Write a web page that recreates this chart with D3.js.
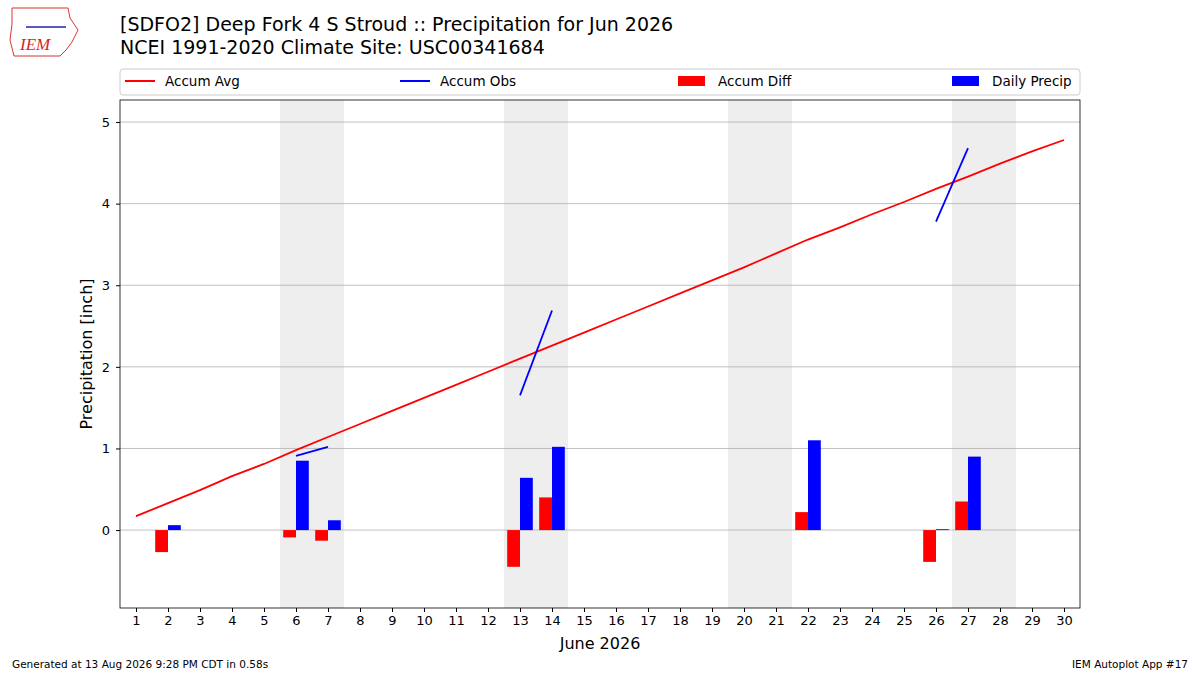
<html>
<head>
<script src="https://d3js.org/d3.v7.min.js"></script>
<style>
  body { margin: 0; background: #fff; font-family: "DejaVu Sans", sans-serif; }
</style>
</head>
<body>
<div id="chart"></div>
<script>
const days = d3.range(1, 31);
const accumAvg = [0.17,0.33,0.49,0.66,0.81,0.98,1.14,1.30,1.46,1.62,1.78,1.94,2.10,2.26,2.42,2.58,2.74,2.90,3.06,3.22,3.39,3.56,3.71,3.87,4.02,4.18,4.33,4.49,4.64,4.78];
// observed accumulation, only reported on some days
const obsDays = [6, 7, 13, 14, 26, 27];
const obsVals = [0.91, 1.02, 1.65, 2.69, 3.78, 4.68];
const diffDays = [2, 6, 7, 13, 14, 22, 26, 27];
const diffVals = [-0.27, -0.09, -0.13, -0.45, 0.40, 0.22, -0.39, 0.35];
const precipDays = [2, 6, 7, 13, 14, 22, 26, 27];
const precipVals = [0.06, 0.85, 0.12, 0.64, 1.02, 1.10, 0.01, 0.90];
const weekendStarts = [6, 13, 20, 27];
const yTicks = [0, 1, 2, 3, 4, 5];

const svg = d3.select("#chart").append("svg").attr("width", 1200).attr("height", 675);
const x = d3.scaleLinear().domain([0.5, 30.5]).range([120, 1080]);
const y = d3.scaleLinear().domain([-0.955, 5.27]).range([608, 100]);

// weekends
svg.selectAll(".wk").data(weekendStarts).enter().append("rect")
  .attr("x", d => x(d - 0.5)).attr("width", x(2) - x(0))
  .attr("y", 100).attr("height", 508).attr("fill", "#eeeeee");

// grid
svg.selectAll(".grid").data(yTicks).enter().append("line")
  .attr("x1", 120).attr("x2", 1080).attr("y1", d => y(d)).attr("y2", d => y(d))
  .attr("stroke", "#b0b0b0").attr("stroke-width", 0.8);

const bw = x(0.4) - x(0);
svg.selectAll(".diff").data(diffDays).enter().append("rect")
  .attr("x", d => x(d - 0.4)).attr("width", bw)
  .attr("y", (d, i) => y(Math.max(0, diffVals[i])))
  .attr("height", (d, i) => Math.abs(y(diffVals[i]) - y(0)))
  .attr("fill", "red");
svg.selectAll(".pr").data(precipDays).enter().append("rect")
  .attr("x", d => x(d)).attr("width", bw)
  .attr("y", (d, i) => y(precipVals[i]))
  .attr("height", (d, i) => y(0) - y(precipVals[i]))
  .attr("fill", "blue");

const line = d3.line().x(d => x(d[0])).y(d => y(d[1]));
svg.append("path").datum(days.map((d, i) => [d, accumAvg[i]]))
  .attr("d", line).attr("fill", "none").attr("stroke", "red").attr("stroke-width", 1.8);
for (let i = 0; i < obsDays.length; i += 2) {
  svg.append("path").datum([[obsDays[i], obsVals[i]], [obsDays[i+1], obsVals[i+1]]])
    .attr("d", line).attr("fill", "none").attr("stroke", "blue").attr("stroke-width", 1.8);
}

// frame & axes
svg.append("rect").attr("x", 120).attr("y", 100).attr("width", 960).attr("height", 508)
  .attr("fill", "none").attr("stroke", "#000").attr("stroke-width", 0.8);
const xa = svg.append("g").attr("transform", "translate(0,608)")
  .call(d3.axisBottom(x).tickValues(days).tickSize(4).tickPadding(4));
const ya = svg.append("g").attr("transform", "translate(120,0)")
  .call(d3.axisLeft(y).tickValues(yTicks).tickFormat(d3.format("d")).tickSize(4).tickPadding(6));
[xa, ya].forEach(a => {
  a.select(".domain").remove();
  a.selectAll("text").attr("font-size", 13).attr("font-family", "DejaVu Sans").attr("fill", "#000");
});

svg.append("text").attr("x", 600).attr("y", 649).attr("text-anchor", "middle")
  .attr("font-size", 16).text("June 2026");
svg.append("text").attr("transform", "translate(92,354) rotate(-90)").attr("text-anchor", "middle")
  .attr("font-size", 16).text("Precipitation [inch]");

// title
svg.append("text").attr("x", 120).attr("y", 31).attr("font-size", 19)
  .text("[SDFO2] Deep Fork 4 S Stroud :: Precipitation for Jun 2026");
svg.append("text").attr("x", 120).attr("y", 54).attr("font-size", 19)
  .text("NCEI 1991-2020 Climate Site: USC00341684");

// legend
svg.append("rect").attr("x", 120).attr("y", 69).attr("width", 960).attr("height", 26)
  .attr("fill", "#fff").attr("stroke", "#ccc").attr("rx", 3);
const leg = [
  {t: "Accum Avg", c: "red", k: "line", x: 125},
  {t: "Accum Obs", c: "blue", k: "line", x: 400},
  {t: "Accum Diff", c: "red", k: "rect", x: 678},
  {t: "Daily Precip", c: "blue", k: "rect", x: 952}
];
leg.forEach(l => {
  if (l.k === "line") svg.append("line").attr("x1", l.x).attr("x2", l.x + 30).attr("y1", 81).attr("y2", 81)
    .attr("stroke", l.c).attr("stroke-width", 2);
  else svg.append("rect").attr("x", l.x).attr("y", 76).attr("width", 27).attr("height", 10).attr("fill", l.c);
  svg.append("text").attr("x", l.x + 40).attr("y", 86).attr("font-size", 13.5).text(l.t);
});

// logo
const logo = svg.append("g");
logo.append("path").attr("d", "M12,8 L68,8 L70,18 L78,30 L72,42 L66,50 L60,56 L14,56 L10,40 L12,24 Z")
  .attr("fill", "#fff").attr("stroke", "#d33").attr("stroke-width", 1);
logo.append("text").attr("x", 20).attr("y", 50).attr("font-size", 17).attr("font-style", "italic")
  .attr("font-family", "Liberation Serif").attr("fill", "#d22").text("IEM");
logo.append("line").attr("x1", 26).attr("x2", 66).attr("y1", 27).attr("y2", 27).attr("stroke", "#22a").attr("stroke-width", 1.5);

// footer
svg.append("text").attr("x", 12).attr("y", 668).attr("font-size", 10.5).text("Generated at 13 Aug 2026 9:28 PM CDT in 0.58s");
svg.append("text").attr("x", 1188).attr("y", 668).attr("text-anchor", "end").attr("font-size", 10.5).text("IEM Autoplot App #17");
</script>
</body>
</html>
